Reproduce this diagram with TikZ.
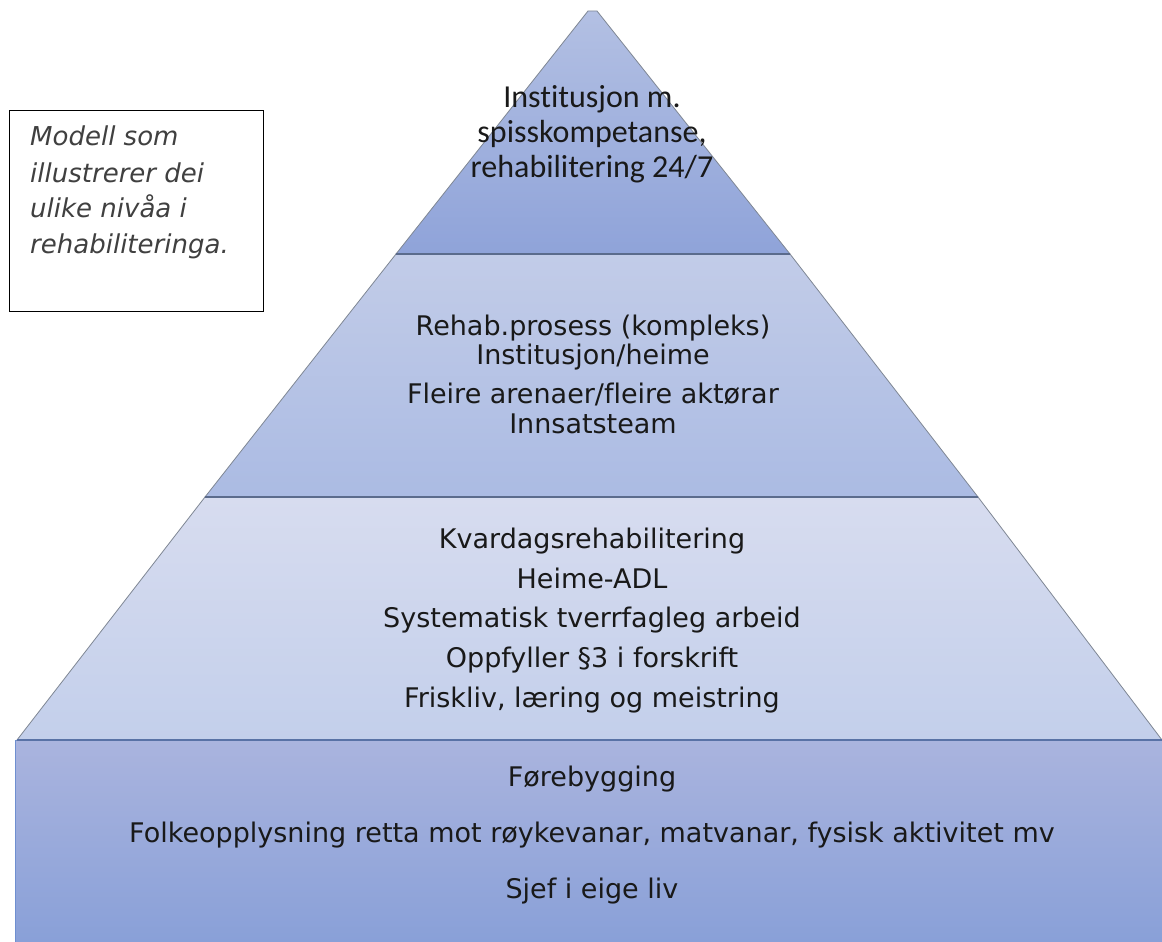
\documentclass[tikz,border=0pt]{standalone}
\usepackage{fontspec}
\setmainfont{DejaVu Sans}[Ligatures=NoCommon]
\newfontfamily\calib{Carlito}[Ligatures=NoCommon]
\begin{document}
\begin{tikzpicture}[x=1pt,y=-1pt,
  tiertext/.style={anchor=base,inner sep=0pt,font=\fontsize{27}{30}\selectfont,text=black!90},
  toptext/.style={anchor=base,inner sep=0pt,font=\calib\fontsize{32}{35}\selectfont,text=black!90},
  notetext/.style={anchor=base west,inner sep=0pt,font=\itshape\fontsize{26}{30}\selectfont,text=black!75},
  edge/.style={draw=edgegray,line width=0.8pt},
  divider/.style={draw=divcol,line width=1.6pt}]
\definecolor{edgegray}{HTML}{7F8794}
\definecolor{divcol}{HTML}{5B6B8C}
\definecolor{botline}{HTML}{6F8FD0}
\definecolor{tAtop}{HTML}{B3C0E3}\definecolor{tAbot}{HTML}{8FA3D9}
\definecolor{tBtop}{HTML}{C2CCE8}\definecolor{tBbot}{HTML}{ABBBE3}
\definecolor{tCtop}{HTML}{D7DCEF}\definecolor{tCbot}{HTML}{C3CFEB}
\definecolor{tDtop}{HTML}{AAB4DE}\definecolor{tDbot}{HTML}{89A0D8}
\useasboundingbox[fill=white] (0,0) rectangle (1162,942);
% corners
\coordinate (apexL) at (588,11);
\coordinate (apexR) at (597,11);
\coordinate (aL) at (396,254);
\coordinate (aR) at (790,254);
\coordinate (bL) at (205,497);
\coordinate (bR) at (978,497);
\coordinate (cL) at (17,740);
\coordinate (cR) at (1162,740);
\coordinate (dL) at (15,740);
\coordinate (dR) at (1162,942);
% bottom block
\shadedraw[top color=tDtop,bottom color=tDbot,draw=botline,line width=1pt] (dL) rectangle (dR);
% tier 3
\shadedraw[top color=tCtop,bottom color=tCbot,edge] (bL) -- (bR) -- (cR) -- (cL) -- cycle;
% tier 2
\shadedraw[top color=tBtop,bottom color=tBbot,edge] (aL) -- (aR) -- (bR) -- (bL) -- cycle;
% top tier
\shadedraw[top color=tAtop,bottom color=tAbot,edge] (apexL) -- (apexR) -- (aR) -- (aL) -- cycle;
% dividers
\draw[divider] (aL) -- (aR);
\draw[divider] (bL) -- (bR);
\draw[draw=botline!80!black,line width=1.2pt] (cL) -- (cR);
% texts top
\node[toptext] (t1) at (592,107) {Institusjon m.};
\node[toptext] (t2) at (592,142) {spisskompetanse,};
\node[toptext] (t3) at (592,177) {rehabilitering 24/7};
% tier 2
\node[tiertext] (s1) at (593,335) {Rehab.prosess (kompleks)};
\node[tiertext] (s2) at (593,364) {Institusjon/heime};
\node[tiertext] (s3) at (593,403) {Fleire arenaer/fleire aktørar};
\node[tiertext] (s4) at (593,433) {Innsatsteam};
% tier 3
\node[tiertext] (k1) at (592,548) {Kvardagsrehabilitering};
\node[tiertext] (k2) at (592,588) {Heime-ADL};
\node[tiertext] (k3) at (592,627) {Systematisk tverrfagleg arbeid};
\node[tiertext] (k4) at (592,667) {Oppfyller §3 i forskrift};
\node[tiertext] (k5) at (592,707) {Friskliv, læring og meistring};
% bottom
\node[tiertext] (f1) at (592,786) {Førebygging};
\node[tiertext] (f2) at (592,842) {Folkeopplysning retta mot røykevanar, matvanar, fysisk aktivitet mv};
\node[tiertext] (f3) at (592,898) {Sjef i eige liv};
% note box
\draw[black,line width=1pt] (9,110) rectangle (263,311);
\node[notetext] (n1) at (30,145) {Modell som};
\node[notetext] (n2) at (30,182) {illustrerer dei};
\node[notetext] (n3) at (30,217) {ulike nivåa i};
\node[notetext] (n4) at (30,253) {rehabiliteringa.};
\end{tikzpicture}
\end{document}
